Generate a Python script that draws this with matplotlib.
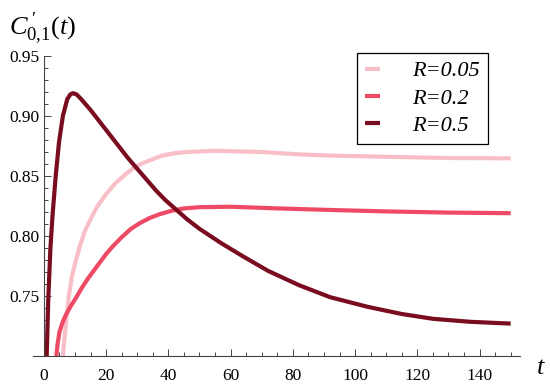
import matplotlib
matplotlib.use("Agg")
import matplotlib.pyplot as plt
from matplotlib.ticker import FixedLocator
from matplotlib.font_manager import FontProperties

plt.rcParams['font.family'] = ['Liberation Serif', 'DejaVu Serif']
plt.rcParams['mathtext.fontset'] = 'custom'
plt.rcParams['mathtext.rm'] = 'Liberation Serif'
plt.rcParams['mathtext.it'] = 'Liberation Serif:italic'

labels = ["R=0.05", "R=0.2", "R=0.5"]
colors = ["#F9BFC9", "#EE4A66", "#7A0C1F"]

t_r005 = [6.1, 7.0, 8.0, 9.0, 10.2, 11.5, 13.0, 15.0, 17.0, 20.0, 23.0, 26.0, 29.0, 32.0, 35.0, 38.0, 42.0, 46.0, 55.0, 70.0, 82.0, 92.0, 110.0, 130.0, 150.0]
c_r005 = [0.700, 0.725, 0.750, 0.766, 0.779, 0.791, 0.803, 0.814, 0.824, 0.835, 0.844, 0.851, 0.857, 0.861, 0.864, 0.867, 0.869, 0.870, 0.871, 0.870, 0.868, 0.867, 0.866, 0.865, 0.8647]

t_r02 = [4.0, 4.4, 5.0, 6.0, 7.0, 8.5, 10.2, 12.0, 14.0, 16.0, 18.0, 20.0, 22.0, 25.0, 28.0, 31.0, 34.0, 37.0, 41.0, 45.0, 50.0, 60.0, 75.0, 92.0, 110.0, 130.0, 150.0]
c_r02 = [0.700, 0.710, 0.720, 0.728, 0.734, 0.741, 0.748, 0.756, 0.764, 0.771, 0.778, 0.785, 0.791, 0.799, 0.806, 0.811, 0.815, 0.818, 0.821, 0.823, 0.824, 0.8244, 0.823, 0.8217, 0.8205, 0.8195, 0.819]

t_r05 = [0.9, 1.4, 2.1, 2.8, 3.8, 4.85, 6.1, 7.5, 8.5, 9.3, 10.5, 12.0, 15.0, 18.0, 21.0, 24.0, 27.0, 30.0, 33.0, 36.0, 39.0, 42.5, 46.0, 50.0, 57.0, 64.0, 72.0, 82.0, 92.0, 104.0, 115.0, 125.0, 137.0, 150.0]
c_r05 = [0.700, 0.747, 0.790, 0.818, 0.850, 0.878, 0.900, 0.914, 0.918, 0.919, 0.918, 0.914, 0.905, 0.895, 0.885, 0.875, 0.865, 0.856, 0.847, 0.838, 0.830, 0.822, 0.814, 0.806, 0.794, 0.783, 0.771, 0.759, 0.749, 0.741, 0.735, 0.731, 0.7285, 0.727]

series_t = [t_r005, t_r02, t_r05]
series_c = [c_r005, c_r02, c_r05]

fig = plt.figure(figsize=(5.5, 3.87), dpi=100)
ax = fig.add_axes([33/550, 1-356/387, (520-33)/550, (356-56)/387])

for t, c, col, lab in zip(series_t, series_c, colors, labels):
    ax.plot(t, c, color=col, lw=3.0, label=lab, solid_capstyle='butt', solid_joinstyle='round')

ax.set_xlim(-3.5, 153)
ax.set_ylim(0.70, 0.95)

for s in ['top', 'right']:
    ax.spines[s].set_visible(False)
ax.spines['left'].set_position(('data', 0))
for s in ['left', 'bottom']:
    ax.spines[s].set_color('#444444')
    ax.spines[s].set_linewidth(0.8)

ax.xaxis.set_major_locator(FixedLocator([0, 20, 40, 60, 80, 100, 120, 140]))
ax.xaxis.set_minor_locator(FixedLocator([v for v in range(0, 151, 5)]))
ax.yaxis.set_major_locator(FixedLocator([0.75, 0.80, 0.85, 0.90, 0.95]))
ax.yaxis.set_minor_locator(FixedLocator([0.70 + 0.01*i for i in range(26)]))
ax.set_yticklabels(["0.75", "0.80", "0.85", "0.90", "0.95"])
ax.tick_params(which='both', direction='in', color='#444444', labelsize=12.5, width=0.7)
ax.tick_params(which='major', length=5)
ax.tick_params(which='minor', length=3)
ax.tick_params(axis='x', pad=9)
for lbl in ax.get_xticklabels() + ax.get_yticklabels():
    lbl.set_fontfamily('Liberation Serif')

fig.text(9/550, 1-35/387, r"$\mathit{C}^{\;\prime}_{\mathit{0{,}1}}(\mathit{t})$", fontsize=19, ha='left', va='baseline')
fig.text(541/550, 1-368/387, r"$\mathit{t}$", fontsize=19, ha='center', va='center')

leg = ax.legend(loc='upper left', bbox_to_anchor=(357/550, 1-53/387), bbox_transform=fig.transFigure,
                borderaxespad=0, frameon=True, fancybox=False, framealpha=1, edgecolor='black',
                handlelength=0.7, handletextpad=1.45, borderpad=0.35, labelspacing=0.3,
                prop=FontProperties(family='Liberation Serif', style='italic', size=16))
leg.get_frame().set_linewidth(0.9)

fig.savefig("out.png", dpi=100)
